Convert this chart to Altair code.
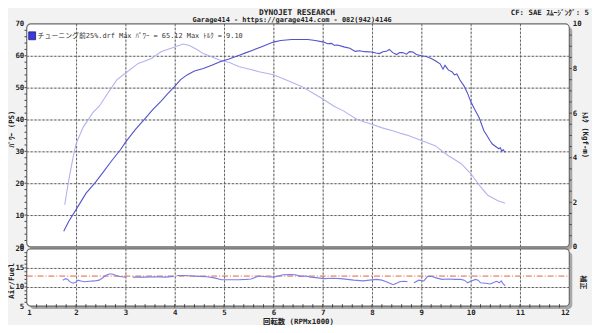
import altair as alt
import pandas as pd

# ---------------- data ----------------
power_rpm = [1.75, 1.85, 2.0, 2.2, 2.4, 2.55, 2.73, 2.9, 3.0, 3.2, 3.39, 3.55, 3.72, 3.85, 4.0,
             4.12, 4.25, 4.4, 4.58, 4.75, 4.92, 5.1, 5.31, 5.45, 5.57, 5.75, 5.9, 6.0, 6.15, 6.37,
             6.55, 6.7, 6.85, 7.02, 7.1, 7.18, 7.23, 7.3, 7.43, 7.55, 7.66, 7.75, 7.85, 8.0, 8.08,
             8.15, 8.22, 8.29, 8.35, 8.42, 8.5, 8.56, 8.62, 8.7, 8.76, 8.83, 8.9, 9.0, 9.1, 9.21,
             9.3, 9.38, 9.44, 9.48, 9.55, 9.62, 9.67, 9.72, 9.78, 9.87, 9.93, 10.0, 10.08, 10.17, 10.22,
             10.27, 10.33, 10.39, 10.44, 10.5, 10.57, 10.6, 10.63, 10.66, 10.7]
power_ps = [4.9, 8.0, 11.7, 16.8, 20.4, 23.5, 27.2, 30.5, 32.8, 36.8, 40.1, 43.0, 45.7, 48.0, 50.4,
            52.5, 54.0, 55.2, 56.0, 57.0, 58.1, 59.0, 60.2, 61.0, 61.7, 62.8, 63.7, 64.3, 64.8, 65.1,
            65.12, 65.1, 64.8, 64.3, 63.8, 63.9, 63.3, 63.4, 62.8, 62.4, 61.4, 61.6, 61.3, 61.2, 60.9,
            60.7, 61.3, 61.4, 62.0, 61.0, 60.4, 61.0, 61.0, 60.5, 61.3, 61.2, 60.4, 60.0, 59.8, 59.1,
            58.3, 57.5, 55.8, 57.0, 55.5, 55.0, 54.0, 54.3, 52.5, 50.4, 48.5, 45.7, 43.2, 40.6, 38.5,
            36.4, 35.0, 33.4, 32.3, 31.6, 30.8, 31.2, 30.1, 30.5, 29.7]

torque_rpm = [1.77, 1.84, 1.94, 2.0, 2.14, 2.34, 2.47, 2.67, 2.83, 3.0, 3.26, 3.53, 3.72, 4.0, 4.17,
              4.3, 4.45, 4.58, 4.72, 4.91, 5.11, 5.31, 5.5, 5.71, 6.0, 6.3, 6.57, 6.8, 7.02, 7.23,
              7.43, 7.69, 7.85, 8.0, 8.19, 8.42, 8.6, 8.75, 9.0, 9.28, 9.54, 9.81, 10.0, 10.2, 10.34,
              10.54, 10.7]
torque_kgm = [1.89, 2.85, 4.03, 4.62, 5.35, 6.02, 6.31, 6.98, 7.5, 7.79, 8.23, 8.45, 8.75, 8.97, 9.10,
              9.03, 8.85, 8.67, 8.55, 8.38, 8.27, 8.08, 7.98, 7.86, 7.72, 7.45, 7.2, 6.9, 6.61, 6.31,
              6.09, 5.73, 5.6, 5.5, 5.35, 5.21, 5.08, 4.99, 4.77, 4.54, 4.1, 3.73, 3.29, 2.7, 2.33,
              2.08, 1.96]

af_rpm = [1.73, 1.79, 1.83, 1.87, 1.94, 2.0, 2.04, 2.1, 2.17, 2.27, 2.37, 2.47, 2.55, 2.6, 2.67,
          2.73, 2.8, 2.86, 2.93, 3.0,
          3.15, 3.4, 3.6, 3.8, 3.98,
          4.05, 4.2, 4.35, 4.5, 4.65, 4.8, 4.95, 5.1, 5.3, 5.45, 5.55, 5.65, 5.72, 5.85, 6.0,
          6.1, 6.2, 6.35, 6.45, 6.55, 6.65, 6.76, 6.9, 7.03, 7.2, 7.36, 7.5, 7.63, 7.82, 7.95,
          8.09, 8.2, 8.29, 8.36, 8.43, 8.5, 8.56, 8.65, 8.72,
          8.85, 8.95, 9.05, 9.13, 9.2, 9.3, 9.42, 9.55, 9.68, 9.8, 9.87, 9.94, 10.0, 10.1, 10.15,
          10.2, 10.3, 10.4, 10.5, 10.53, 10.58, 10.62, 10.66, 10.7]
af_value = [11.8, 12.2, 12.0, 11.4, 11.0, 11.3, 11.8, 11.6, 11.4, 11.5, 11.6, 11.8, 12.5, 13.0, 13.4,
            13.4, 13.1, 12.8, 12.7, 12.6,
            12.6, 12.6, 12.7, 12.6, 12.8,
            13.0, 13.0, 12.9, 12.8, 12.7, 12.4, 11.9, 11.9, 11.9, 12.0, 12.1, 12.6, 12.9, 12.7, 12.6,
            12.9, 13.2, 13.3, 13.2, 12.8, 12.9, 12.6, 12.4, 12.2, 12.3, 12.2, 12.0, 11.8, 11.6, 11.8,
            12.0, 11.8, 11.4, 11.0, 10.6, 11.0, 11.4, 11.5, 11.4,
            11.1, 11.8, 11.6, 12.8, 12.8, 12.4, 12.0, 12.1, 12.0, 12.0, 11.8, 11.1, 11.5, 12.0, 11.8,
            11.1, 11.0, 10.8, 11.4, 11.5, 11.1, 11.6, 10.8, 10.3]
af_run = [1] * 20 + [2] * 5 + [3] * 39 + [4] * 24
af_target = 13.0

rpm_labels = list(range(1, 13))
rpm_grid = list(range(2, 12))
ps_labels = [0, 10, 20, 30, 40, 50, 60, 70]
ps_grid = [10, 20, 30, 40, 50, 60]
torque_labels = [0, 2, 4, 6, 8, 10]
af_labels = [5, 10, 15, 20]
af_grid = [10, 15]
ps_minor = [v for v in range(2, 70, 2)]
torque_minor = [v / 2 for v in range(1, 20)]
af_minor = [v for v in range(6, 20)]
rpm_minor = [round(1 + i * 0.2, 1) for i in range(1, 55)]

legend_text = "チューニング前25%.drf Max ﾊﾟﾜｰ = 65.12  Max ﾄﾙｸ = 9.10"

# ---------------- layout ----------------
W, H = 550, 286
MONO = "DejaVu Sans Mono, Noto Sans CJK JP"
TXT = "#222222"

x_scale = alt.Scale(domain=[1, 12], nice=False, zero=False)
ps_scale = alt.Scale(domain=[0, 70], range=[226, 0], nice=False, zero=False)
tq_scale = alt.Scale(domain=[0, 10], range=[226, 0], nice=False, zero=False)
af_scale = alt.Scale(domain=[5, 20], range=[286, 228], nice=False, zero=False)

x_axis = alt.Axis(values=rpm_labels, format="d", title="回転数 (RPMx1000)", grid=False, ticks=False,
                  domain=False, labelPadding=3, labelFont=MONO, labelFontSize=7.5,
                  labelFontWeight="bold", labelColor=TXT, titleFont=MONO, titleFontSize=7.5,
                  titleFontWeight="bold", titleColor=TXT, titlePadding=1)


def X(field):
    return alt.X(f"{field}:Q", scale=x_scale, axis=x_axis)


power_df = pd.DataFrame({"rpm": power_rpm, "ps": power_ps})
torque_df = pd.DataFrame({"rpm": torque_rpm, "kgm": torque_kgm})
af_df = pd.DataFrame({"rpm": af_rpm, "af": af_value, "run": af_run})
frame_top_df = pd.DataFrame({"r0": [1], "r1": [12], "lo": [0], "hi": [70]})
frame_bot_df = pd.DataFrame({"r0": [1], "r1": [12], "lo": [5], "hi": [20]})
vgrid_top_df = pd.DataFrame({"gx": rpm_grid, "glo": [0] * len(rpm_grid), "ghi": [70] * len(rpm_grid)})
vgrid_bot_df = pd.DataFrame({"gx": rpm_grid, "glo": [5] * len(rpm_grid), "ghi": [20] * len(rpm_grid)})
hgrid_top_df = pd.DataFrame({"gy": ps_grid, "g0": [1] * len(ps_grid), "g1": [12] * len(ps_grid)})
hgrid_bot_df = pd.DataFrame({"gy": af_grid, "g0": [1] * len(af_grid), "g1": [12] * len(af_grid)})
target_df = pd.DataFrame({"v": [af_target], "r0": [1], "r1": [12]})
ps_minor_df = pd.DataFrame({"v": ps_minor, "r0": 0.955, "r1": 1})
tq_minor_df = pd.DataFrame({"v": torque_minor, "r0": 12, "r1": 12.05})
af_minor_df = pd.DataFrame({"v": af_minor, "r0": 0.955, "r1": 1})
rpm_minor_df = pd.DataFrame({"rpm": rpm_minor, "lo": 4.6, "hi": 5.5})


def Yq(field, scale):
    return alt.Y(f"{field}:Q", scale=scale, axis=None)


shadow_top = alt.Chart(frame_top_df).mark_rect(fill="#a8a8a8", cornerRadius=4, xOffset=3, x2Offset=3,
                                               yOffset=3, y2Offset=3).encode(
    x=X("r0"), x2="r1", y=Yq("lo", ps_scale), y2="hi")
frame_top = alt.Chart(frame_top_df).mark_rect(fill="white", stroke="#6a6a6a", strokeWidth=1.2,
                                              cornerRadius=4).encode(
    x=X("r0"), x2="r1", y=Yq("lo", ps_scale), y2="hi")
shadow_bot = alt.Chart(frame_bot_df).mark_rect(fill="#a8a8a8", cornerRadius=4, xOffset=3, x2Offset=3,
                                               yOffset=3, y2Offset=3).encode(
    x=X("r0"), x2="r1", y=Yq("lo", af_scale), y2="hi")
frame_bot = alt.Chart(frame_bot_df).mark_rect(fill="white", stroke="#6a6a6a", strokeWidth=1.2,
                                              cornerRadius=4).encode(
    x=X("r0"), x2="r1", y=Yq("lo", af_scale), y2="hi")


def grid_layers(style):
    return [
        alt.Chart(vgrid_top_df).mark_rule(xOffset=0.5, **style).encode(
            x=X("gx"), y=Yq("glo", ps_scale), y2="ghi"),
        alt.Chart(vgrid_bot_df).mark_rule(xOffset=0.5, **style).encode(
            x=X("gx"), y=Yq("glo", af_scale), y2="ghi"),
        alt.Chart(hgrid_top_df).mark_rule(yOffset=0.5, **style).encode(
            x=X("g0"), x2="g1", y=Yq("gy", ps_scale)),
        alt.Chart(hgrid_bot_df).mark_rule(yOffset=0.5, **style).encode(
            x=X("g0"), x2="g1", y=Yq("gy", af_scale)),
    ]


grid_base = grid_layers(dict(color="#d2d2d2", strokeWidth=1))
grid_dots = grid_layers(dict(color="#5c5c5c", strokeWidth=1, strokeDash=[2, 2]))

target = alt.Chart(target_df).mark_rule(color="#e0643c", strokeDash=[6, 2, 1, 2], strokeWidth=1,
                                        yOffset=0.5).encode(
    x=X("r0"), x2="r1", y=Yq("v", af_scale))

TICK = dict(color="#444444", strokeWidth=1)
ps_minor_l = alt.Chart(ps_minor_df).mark_rule(**TICK).encode(x=X("r0"), x2="r1", y=Yq("v", ps_scale))
tq_minor_l = alt.Chart(tq_minor_df).mark_rule(**TICK).encode(x=X("r0"), x2="r1", y=Yq("v", tq_scale))
af_minor_l = alt.Chart(af_minor_df).mark_rule(**TICK).encode(x=X("r0"), x2="r1", y=Yq("v", af_scale))
rpm_minor_l = alt.Chart(rpm_minor_df).mark_rule(**TICK).encode(x=X("rpm"), y=Yq("lo", af_scale), y2="hi")

AXL = dict(grid=False, ticks=False, domain=False, labelFont=MONO, labelFontSize=7.5,
           labelFontWeight="bold", labelColor=TXT, titleFont=MONO, titleFontSize=7.5,
           titleFontWeight="bold", titleColor=TXT, labelPadding=3)

torque_line = alt.Chart(torque_df).mark_line(color="#b3b3ee", strokeWidth=1.1).encode(
    x=X("rpm"),
    y=alt.Y("kgm:Q", scale=tq_scale,
            axis=alt.Axis(orient="right", values=torque_labels, title="ﾄﾙｸ (Kgf-m)", titleAngle=90,
                          titleX=15, titleY=112, titleAlign="center", titleBaseline="middle", **AXL)))
power_line = alt.Chart(power_df).mark_line(color="#5252cc", strokeWidth=1.1).encode(
    x=X("rpm"),
    y=alt.Y("ps:Q", scale=ps_scale,
            axis=alt.Axis(orient="left", values=ps_labels, title="ﾊﾟﾜｰ (PS)", titleAngle=270,
                          titleX=-15, titleY=106, titleAlign="center", titleBaseline="middle", **AXL)))
af_line = alt.Chart(af_df).mark_line(color="#7c7ce6", strokeWidth=1.1).encode(
    x=X("rpm"),
    y=alt.Y("af:Q", scale=af_scale,
            axis=alt.Axis(orient="left", values=af_labels, title="Air/Fuel", titleAngle=270,
                          titleX=-15, titleY=260, titleAlign="center", titleBaseline="middle", **AXL)),
    detail="run:N")

text_df = pd.DataFrame({"t": [0]})
legend_box = alt.Chart(text_df).mark_rect(fill="#3a3ae0", stroke="#20206a", strokeWidth=0.8).encode(
    x=alt.value(2), x2=alt.value(9), y=alt.value(8), y2=alt.value(16))
legend_lbl = alt.Chart(text_df).mark_text(text=legend_text, align="left", baseline="middle", font=MONO,
                                          fontSize=7, color="#333333").encode(
    x=alt.value(11), y=alt.value(12.5))
head1 = alt.Chart(text_df).mark_text(text="DYNOJET  RESEARCH", align="center", baseline="middle",
                                     font=MONO, fontSize=8, fontWeight="bold", color=TXT).encode(
    x=alt.value(274), y=alt.value(-11))
head2 = alt.Chart(text_df).mark_text(text="Garage414 - https://garage414.com - 082(942)4146", align="center",
                                     baseline="middle", font=MONO, fontSize=7, fontWeight="bold",
                                     color=TXT).encode(x=alt.value(269), y=alt.value(-4))
head3 = alt.Chart(text_df).mark_text(text="CF: SAE  ｽﾑｰｼﾞﾝｸﾞ: 5", align="right", baseline="middle",
                                     font=MONO, fontSize=7.5, fontWeight="bold", color=TXT).encode(
    x=alt.value(570), y=alt.value(-11))
hosei = alt.Chart(text_df).mark_text(text="補正", align="center", baseline="middle", angle=90,
                                     font=MONO, fontSize=7, fontWeight="bold", color=TXT).encode(
    x=alt.value(564), y=alt.value(262))

chart = alt.layer(
    shadow_top, shadow_bot, frame_top, frame_bot,
    *grid_base, *grid_dots, target,
    ps_minor_l, tq_minor_l, af_minor_l, rpm_minor_l,
    torque_line, power_line, af_line,
    legend_box, legend_lbl, head1, head2, head3, hosei,
).resolve_scale(y="independent").properties(
    width=W, height=H,
    autosize=alt.AutoSizeParams(type="none"),
    padding={"left": 19, "top": 14, "right": 23, "bottom": 17},
).configure(background="#f2f2f2").configure_view(stroke=None)

chart.save("out.html", embed_options={"renderer": "svg", "actions": False})
